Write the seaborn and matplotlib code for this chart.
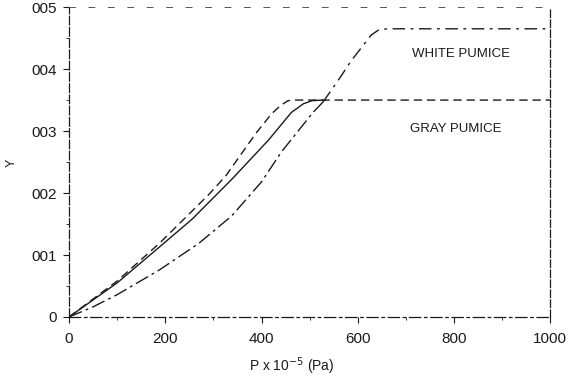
import matplotlib
matplotlib.use("Agg")
import matplotlib.pyplot as plt
import seaborn as sns
import pandas as pd
from matplotlib.ticker import MultipleLocator

# ---- data ----
dashed_x = [0, 100, 188, 291, 326, 388, 421, 441, 455, 470, 1000]
dashed_y = [0, 0.0058, 0.0119, 0.0198, 0.0228, 0.0296, 0.0328, 0.0342, 0.0349, 0.035, 0.035]

solid_x = [0, 100, 188, 256, 338, 414, 462, 487, 505, 528]
solid_y = [0, 0.0055, 0.0113, 0.0158, 0.0222, 0.0285, 0.0330, 0.0344, 0.0349, 0.035]

lower_x = [0, 49, 100, 188, 270, 338, 400, 441, 507, 528]
lower_y = [0, 0.0016, 0.0036, 0.0076, 0.0119, 0.0163, 0.0218, 0.0266, 0.0330, 0.0347]

white_x = [528, 563, 586, 610, 628, 645, 665, 1000]
white_y = [0.0347, 0.0386, 0.0413, 0.0437, 0.0455, 0.0464, 0.0465, 0.0465]

x_ticks = [0, 200, 400, 600, 800, 1000]
x_tick_labels = ["0", "200", "400", "600", "800", "1000"]
y_ticks = [0, 0.01, 0.02, 0.03, 0.04, 0.05]
y_tick_labels = ["0", "001", "002", "003", "004", "005"]

sns.set_style("ticks")
plt.rcParams["font.family"] = ["Liberation Sans", "DejaVu Sans"]

fig = plt.figure(figsize=(5.75, 3.84), dpi=100)
ax = fig.add_axes([0.12, 0.1745, 0.837, 0.807])

ink = "#1a1a1a"
series = [
    (dashed_x, dashed_y, (0, (6, 3.5))),
    (solid_x, solid_y, "-"),
    (lower_x, lower_y, (0, (10, 3, 2, 3))),
    (white_x, white_y, (0, (9, 4, 2, 4))),
]
for xs, ys, ls in series:
    df = pd.DataFrame({"P": xs, "Y": ys})
    sns.lineplot(data=df, x="P", y="Y", ax=ax, color=ink, linewidth=1.0,
                 linestyle=ls, sort=False, estimator=None)

ax.set_xlim(0, 1000)
ax.set_ylim(0, 0.05)
ax.set_xticks(x_ticks)
ax.set_xticklabels(x_tick_labels)
ax.set_yticks(y_ticks)
ax.set_yticklabels(y_tick_labels)
ax.xaxis.set_minor_locator(MultipleLocator(100))
ax.yaxis.set_minor_locator(MultipleLocator(0.005))
ax.tick_params(axis="both", which="major", direction="out", length=4,
               width=0.8, labelsize=11, colors=ink)
ax.tick_params(axis="x", which="major", pad=7)
ax.tick_params(axis="y", which="major", pad=5)
ax.tick_params(axis="both", which="minor", direction="out", length=2, width=0.6, colors=ink)
ax.set_xlabel("")
ax.set_ylabel("")

spine_styles = {
    "left": ((0, (7, 2)), 0.9, ink),
    "bottom": ((0, (9, 3, 2, 3)), 0.9, ink),
    "top": ((0, (6, 14)), 0.7, "#555555"),
    "right": ((0, (6, 2)), 0.9, ink),
}
for side, (ls, lw, col) in spine_styles.items():
    ax.spines[side].set_visible(True)
    ax.spines[side].set_linestyle(ls)
    ax.spines[side].set_linewidth(lw)
    ax.spines[side].set_color(col)

ax.text(713, 0.0425, "WHITE PUMICE", fontsize=9.5, color=ink, ha="left", va="center")
ax.text(709, 0.0303, "GRAY PUMICE", fontsize=9.5, color=ink, ha="left", va="center")

fig.text(292 / 575, 1 - 366 / 384, "P x 10$^{-5}$ (Pa)", fontsize=10, color=ink,
         ha="center", va="center")
fig.text(12 / 575, 1 - 163 / 384, "Y", fontsize=9, color=ink, rotation=90,
         ha="center", va="center")

fig.savefig("out.png", dpi=100)
